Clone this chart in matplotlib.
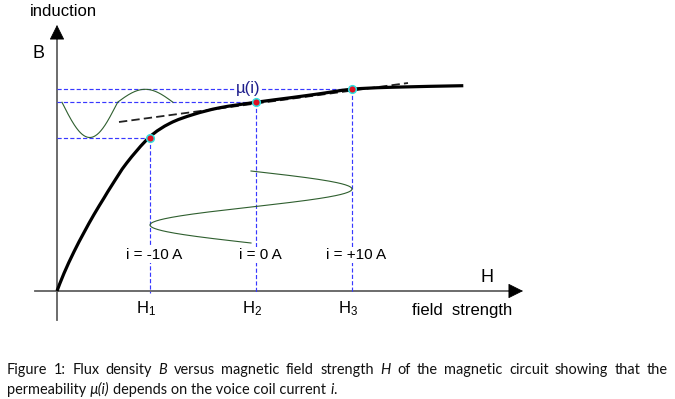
import matplotlib
matplotlib.use('Agg')
import matplotlib.pyplot as plt
from matplotlib.transforms import IdentityTransform
from matplotlib.path import Path
from matplotlib.patches import PathPatch
import numpy as np

plt.rcParams['lines.scale_dashes'] = False
plt.rcParams['mathtext.fontset'] = 'custom'
plt.rcParams['mathtext.rm'] = 'Liberation Sans'
plt.rcParams['mathtext.it'] = 'Liberation Sans:italic'
plt.rcParams['mathtext.bf'] = 'Liberation Sans:bold'

# ---------------- data (drawing units, origin at the axes crossing) ----------------
# magnetisation curve B(H)
curve_H = [0, 7, 17, 27, 37, 47, 55, 69.7, 92.3, 113, 136.3, 163, 198.7,
           233, 263, 294.3, 333, 406.3]
curve_B = [0, 17.7, 39.3, 58.5, 76.5, 93, 106, 128, 153.7, 167.7, 176.5, 183.3, 188.7,
           193.2, 197.3, 201.7, 203.7, 205.3]

# operating points for the three coil currents
op_H = [93, 199, 295]
op_B = [153.5, 188.7, 201.7]
op_current = ['i = -10 A', 'i = 0 A', 'i = +10 A']
op_tick = ['H$_1$', 'H$_2$', 'H$_3$']

# tangent (permeability at i = 0)
tangent_H = [62, 351]
tangent_B = [169, 208]

# sketched waveforms
bwave_start_H = 5      # B(t) wave drawn along the B axis
bwave_period = 111
hwave_start_B = 120    # H(t) wave drawn below the curve
hwave_period = 72

# axis extents
x_axis_range = [-22, 466]
y_axis_range = [-29, 266]

caption_line1 = [('Figure', 'normal'), ('1:', 'normal'), ('Flux', 'normal'),
                 ('density', 'normal'), ('B', 'italic'), ('versus', 'normal'),
                 ('magnetic', 'normal'), ('field', 'normal'), ('strength', 'normal'),
                 ('H', 'italic'), ('of', 'normal'), ('the', 'normal'),
                 ('magnetic', 'normal'), ('circuit', 'normal'), ('showing', 'normal'),
                 ('that', 'normal'), ('the', 'normal')]
caption_line2 = [('permeability ', 'normal'), ('\u00b5(i)', 'italic'),
                 (' depends on the voice coil current ', 'normal'), ('i', 'italic'),
                 ('.', 'normal')]

# ---------------- figure ----------------
W, H = 675, 399
fig = plt.figure(figsize=(W / 100, H / 100), dpi=100)
ax = fig.add_axes([0, 0, 1, 1])
ox, oy = 57, 291
ax.set_xlim(-ox, W - ox)
ax.set_ylim(-(H - oy), oy)
ax.axis('off')

FONT = 'Liberation Sans'
BLUE = '#3838ff'
GREEN = '#2f5f2f'
AX_GRAY = '#606060'

# axes with arrows
ax.plot([x_axis_range[0], x_axis_range[1] - 8], [0, 0], color=AX_GRAY, lw=1.3, zorder=2)
ax.plot([0, 0], [y_axis_range[0], y_axis_range[1] - 8], color=AX_GRAY, lw=1.3, zorder=2)
arrow = dict(arrowstyle='-|>,head_length=0.96,head_width=0.48', mutation_scale=10,
             color='black', lw=0.5, shrinkA=0, shrinkB=0)
ax.annotate('', xy=(x_axis_range[1], 0), xytext=(x_axis_range[1] - 14, 0), arrowprops=arrow)
ax.annotate('', xy=(0, y_axis_range[1]), xytext=(0, y_axis_range[1] - 14), arrowprops=arrow)

# blue dashed guide lines
dash = (0, (3.0, 1.6))
for h, b in zip(op_H, op_B):
    ax.plot([0, h], [b, b], color=BLUE, lw=0.85, linestyle=dash, zorder=2)
    ax.plot([h, h], [b, -2], color=BLUE, lw=0.85, linestyle=dash, zorder=2)

# tangent
ax.plot(tangent_H, tangent_B, color='#222222', lw=1.3, linestyle=(0, (6, 3)), zorder=3)

# B(H) curve, drawn as a smooth Bezier path through the read points
P = np.column_stack([curve_H, curve_B]).astype(float)
verts = [P[0]]
codes = [Path.MOVETO]
for i in range(len(P) - 1):
    p0 = P[i - 1] if i > 0 else P[i]
    p1, p2 = P[i], P[i + 1]
    p3 = P[i + 2] if i + 2 < len(P) else P[i + 1]
    verts += [p1 + (p2 - p0) / 6, p2 - (p3 - p1) / 6, p2]
    codes += [Path.CURVE4] * 3
ax.add_patch(PathPatch(Path(verts, codes), fc='none', ec='black', lw=2.3,
                       capstyle='butt', joinstyle='round', zorder=4))
ax.plot(op_H, op_B, 'o', ms=5.5, mfc='#e01020', mec='#30e0e0', mew=1.1, zorder=5)

# B(t) waveform (distorted by saturation)
t = np.linspace(0, 1, 200)
s = np.sin(2 * np.pi * t)
bw_H = bwave_start_H + bwave_period * t
bw_B = op_B[1] - (op_B[1] - op_B[0]) * np.clip(s, 0, None) + (op_B[2] - op_B[1]) * np.clip(-s, 0, None)
ax.plot(bw_H, bw_B, color=GREEN, lw=0.8, zorder=3)

# H(t) waveform
hw_H = (op_H[0] + op_H[2]) / 2 + (op_H[2] - op_H[0]) / 2 * s
hw_B = hwave_start_B - hwave_period * t
ax.plot(hw_H, hw_B, color=GREEN, lw=0.8, zorder=3)

# labels
for h, lab in zip(op_H, op_current):
    ax.annotate(lab, (h, 36), xytext=(3, 0), textcoords='offset points',
                ha='center', va='center', fontsize=11, family=FONT,
                bbox=dict(fc='white', ec='none', pad=0.5), zorder=6)
for h, lab in zip(op_H, op_tick):
    ax.annotate(lab, (h, -22), xytext=(-3, 0), textcoords='offset points',
                ha='center', va='baseline', fontsize=12, family=FONT)

ax.text(191, 202, '\u00b5(i)', color='#1e1e8c', fontsize=12, family=FONT,
        ha='center', va='center', bbox=dict(fc='white', ec='none', pad=0.3), zorder=6)
ax.text(-27, 279, 'induction', fontsize=12, family=FONT, ha='left', va='center')
ax.text(-25, 238, 'B', fontsize=13, family=FONT, ha='left', va='center')
ax.text(423, 14, 'H', fontsize=13, family=FONT, ha='left', va='center')
ax.text(355, -19, 'field  strength', fontsize=12, family=FONT, ha='left', va='center')

# caption (justified first line)
CAP = ['Liberation Sans Narrow', 'Lato', 'DejaVu Sans']
renderer = fig.canvas.get_renderer()


def width(txt, style, size):
    tt = fig.text(0, 0, txt, fontsize=size, family=CAP, style=style)
    w = tt.get_window_extent(renderer).width
    tt.remove()
    return w


def space(size):
    return width('a a', 'normal', size) - width('aa', 'normal', size)


def seg_width(txt, style, size):
    core = txt.strip()
    w = width(core, style, size) if core else 0
    nspace = len(txt) - len(txt.lstrip()) + len(txt) - len(txt.rstrip())
    return w + nspace * space(size)


left, right = 7, 668
ref = 10.0
w2 = sum(seg_width(tx, st, ref) for tx, st in caption_line2)
size = ref * 330 / w2

base1 = H - 374
base2 = H - 394
ws = [width(tx, st, size) for tx, st in caption_line1]
gap = (right - left - sum(ws)) / (len(ws) - 1)
x = left
for (tx, st), w in zip(caption_line1, ws):
    fig.text(x, base1, tx, fontsize=size, family=CAP, style=st, color='#111111',
             transform=IdentityTransform(), va='baseline', ha='left')
    x += w + gap

x = left
sp = space(size)
for tx, st in caption_line2:
    core = tx.strip()
    x += (len(tx) - len(tx.lstrip())) * sp
    fig.text(x, base2, core, fontsize=size, family=CAP, style=st, color='#111111',
             transform=IdentityTransform(), va='baseline', ha='left')
    x += width(core, st, size) + (len(tx) - len(tx.rstrip())) * sp

fig.savefig('out.png', dpi=100)
